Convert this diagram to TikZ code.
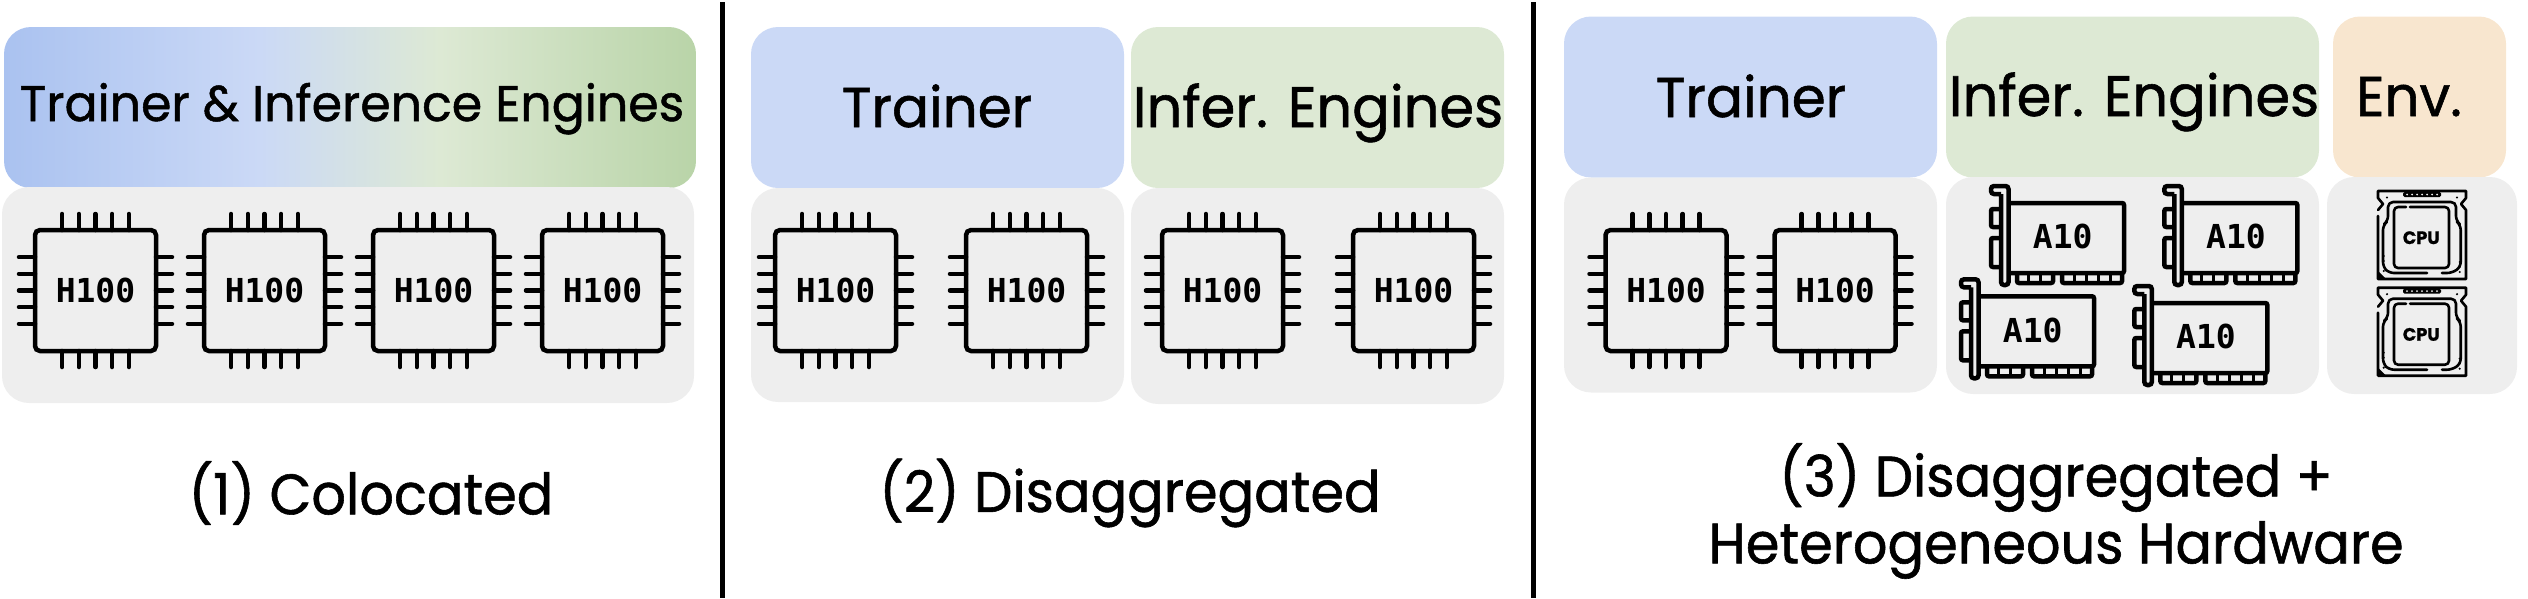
\documentclass[tikz,border=0pt]{standalone}
\usepackage{fontspec}
\usepackage{tikz}
\setmainfont[FakeStretch=0.98,FakeBold=1]{Poppins}
\newfontfamily\captionfont[FakeStretch=0.95,FakeBold=1]{Poppins}
\newfontfamily\chipfont{DejaVu Sans Mono}
\definecolor{trainerblue}{HTML}{CBD9F6}
\definecolor{trainerdeep}{HTML}{AAC2F0}
\definecolor{infergreen}{HTML}{DDE9D4}
\definecolor{inferdeep}{HTML}{B9D4A8}
\definecolor{envorange}{HTML}{F8E6CF}
\definecolor{hwgray}{HTML}{EEEEEE}
\pgfdeclarehorizontalshading{trainerinfer}{100bp}{
  color(0bp)=(trainerdeep);
  color(25bp)=(trainerdeep);
  color(43.5bp)=(trainerblue);
  color(56.5bp)=(infergreen);
  color(75bp)=(inferdeep);
  color(100bp)=(inferdeep)}
\tikzset{
  panelbox/.style={rounded corners=27pt, inner sep=0pt},
  headlabel/.style={anchor=base, inner sep=0pt, font=\fontsize{56}{56}\selectfont},
  caption/.style={inner sep=0pt, align=center, font=\captionfont\fontsize{57}{67}\selectfont},
  chiplabel/.style={inner sep=0pt, font=\chipfont\bfseries\fontsize{33}{33}\selectfont},
  sepline/.style={line width=5pt},
  pics/hchip/.style={code={
    \draw[line width=4.5pt, rounded corners=5pt] (-60.5,-60.5) rectangle (60.5,60.5);
    \foreach \p in {-33.3,-16.7,0,16.7,33.3} {
      \draw[line width=4.5pt, line cap=round] (\p,-60.5) -- (\p,-76.5);
      \draw[line width=4.5pt, line cap=round] (\p,60.5) -- (\p,76.5);
      \draw[line width=4.5pt, line cap=round] (-60.5,\p) -- (-76.5,\p);
      \draw[line width=4.5pt, line cap=round] (60.5,\p) -- (76.5,\p);
    }
    \node[chiplabel] (-name) at (0,0) {H100};
  }},
  pics/acard/.style={code={
    % bracket with its hook and side tabs
    \draw[line width=4.5pt, rounded corners=3pt] (11,9) -- (1,9) -- (1,1) -- (18.5,1) -- (18.5,100) -- (11,100) -- (11,9);
    \draw[line width=4.5pt, rounded corners=2pt] (11,24) -- (1,24) -- (1,42) -- (11,42);
    \draw[line width=4.5pt, rounded corners=2pt] (11,53) -- (1,53) -- (1,82) -- (11,82);
    % board and edge connectors
    \draw[line width=4.5pt, rounded corners=2pt] (18.5,18) -- (134,18) -- (134,88) -- (18.5,88);
    \draw[line width=4.5pt, rounded corners=2pt] (27,88) -- (27,98) -- (63,98) -- (63,88);
    \draw[line width=4.5pt, rounded corners=2pt] (72,88) -- (72,98) -- (132,98) -- (132,88);
    \foreach \t in {38,50,84,96,108,120}
      \draw[line width=3pt] (\t,88) -- (\t,98);
    \node[chiplabel] (-name) at (72.7,51.7) {A10};
  }},
  pics/cpuchip/.style={code={
    \begin{scope}[line width=2.6pt, line cap=round, line join=round]
    \draw (-44,-19) -- (-44,44) -- (44,44) -- (44,-25) -- (39,-31) -- (44,-37) -- (44,-44) -- (-44,-44) -- (-44,-37) -- (-39,-31) -- (-44,-25);
    \fill (-44,36) -- (-36,44) -- (-44,44) -- cycle;
    \draw[rounded corners=5pt] (5,38) -- (-33,38) -- (-39,32) -- (-39,-10) -- (-34,-14) -- (-34,-33) -- (34,-33) -- (34,-14) -- (38.7,-10) -- (38.7,32) -- (30,38) -- (20,38);
    \draw[rounded corners=4pt] (-16,-28) -- (-28,-28) -- (-28,33) -- (27,33) -- (27,-28) -- (-12,-28);
    \fill[rounded corners=1.5pt] (-19,-43) rectangle (19,-38);
    \foreach \d in {-15,-10,-5,0,5,10,15}
      \fill[hwgray] (\d,-40.5) circle (1pt);
    \foreach \d/\e in {-35/-37.5,35/-37.5,-38.3/21,-38.3/26,-38.3/31,-38.3/36,37.7/27,37.7/32,37.7/37}
      \fill (\d,\e) circle (1.2pt);
    \end{scope}
    \node[inner sep=0pt, font=\bfseries\fontsize{18}{18}\selectfont] (-name) at (-0.7,2.7) {CPU};
  }}
}
\begin{document}
\begin{tikzpicture}[x=1pt,y=-1pt]
  \useasboundingbox (0,0) rectangle (2528,598);
  % (1) colocated
  \node[panelbox, shading=trainerinfer, minimum width=692pt, minimum height=161pt] (shareda) at (350,107.5) {};
  \node[panelbox, fill=hwgray, minimum width=692pt, minimum height=216pt] (hwa) at (348,295) {};
  \node[headlabel, font=\fontsize{50}{50}\selectfont] (sharedlabel) at (352,121) {Trainer \& Inference Engines};
  \foreach \x [count=\i] in {95.5,264.5,433.5,602.5}
    \pic (chipa\i) at (\x,290.5) {hchip};
  \node[caption] (capa) at (371,493) {(1) Colocated};
  % (2) disaggregated
  \node[panelbox, fill=trainerblue, minimum width=373pt, minimum height=161pt] (trainerb) at (937.5,107.5) {};
  \node[panelbox, fill=infergreen, minimum width=373pt, minimum height=161pt] (inferb) at (1317.5,107.5) {};
  \node[panelbox, fill=hwgray, minimum width=373pt, minimum height=214pt] (hwbl) at (937.5,295) {};
  \node[panelbox, fill=hwgray, minimum width=373pt, minimum height=216pt] (hwbr) at (1317.5,296) {};
  \node[headlabel] (trainerlabelb) at (937,127) {Trainer};
  \node[headlabel, font=\fontsize{57}{57}\selectfont] (inferlabelb) at (1318,127) {Infer. Engines};
  \foreach \x [count=\i] in {835.5,1026.5,1222.5,1413.5}
    \pic (chipb\i) at (\x,290.5) {hchip};
  \node[caption] (capb) at (1130,493) {(2) Disaggregated};
  % (3) disaggregated + heterogeneous hardware
  \node[panelbox, fill=trainerblue, minimum width=373pt, minimum height=161pt] (trainerc) at (1750.5,97) {};
  \node[panelbox, fill=infergreen, minimum width=373pt, minimum height=161pt] (inferc) at (2132.5,97) {};
  \node[panelbox, fill=envorange, minimum width=173pt, minimum height=161pt] (envc) at (2419.5,97) {};
  \node[panelbox, fill=hwgray, minimum width=373pt, minimum height=215pt] (hwcl) at (1750.5,285) {};
  \node[panelbox, fill=hwgray, minimum width=373pt, minimum height=217pt] (hwcm) at (2132.5,285.5) {};
  \node[panelbox, fill=hwgray, minimum width=190pt, minimum height=217pt] (hwcr) at (2422,285.5) {};
  \node[headlabel] (trainerlabelc) at (1751,117) {Trainer};
  \node[headlabel, font=\fontsize{57}{57}\selectfont] (inferlabelc) at (2134,116) {Infer. Engines};
  \node[headlabel] (envlabelc) at (2409,116) {Env.};
  \pic (chipc1) at (1666,290.5) {hchip};
  \pic (chipc2) at (1835,290.5) {hchip};
  \pic (carda) at (1990,185) {acard};
  \pic (cardb) at (2163.3,185) {acard};
  \pic (cardc) at (1960,278.3) {acard};
  \pic (cardd) at (2133.3,285) {acard};
  \pic (cpua) at (2422,235) {cpuchip};
  \pic (cpub) at (2422,331.7) {cpuchip};
  \node[caption] (capc) at (2056,511) {(3) Disaggregated +\\Heterogeneous Hardware};
  % separators
  \coordinate (septopa) at (722,2);
  \coordinate (sepbota) at (722,598);
  \coordinate (septopb) at (1533,2);
  \coordinate (sepbotb) at (1533,598);
  \draw[sepline] (septopa) -- (sepbota);
  \draw[sepline] (septopb) -- (sepbotb);
\end{tikzpicture}
\end{document}
